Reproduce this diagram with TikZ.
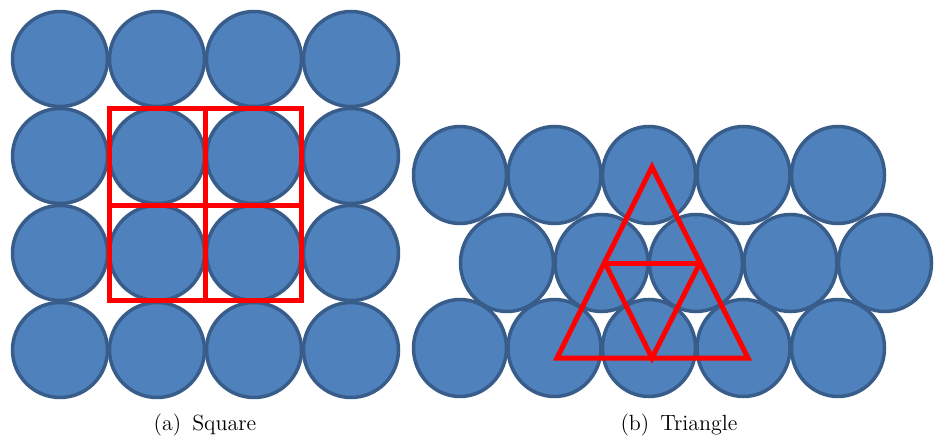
\documentclass[tikz,border=0pt]{standalone}
\usepackage{tikz}
\definecolor{ballfill}{HTML}{4F81BD}
\definecolor{balledge}{HTML}{385D8A}

\begin{document}
\begin{tikzpicture}[x=0.5pt,y=-0.5pt,
 ball/.style={draw=balledge,fill=ballfill,line width=1.75pt},
 cell/.style={draw=red,line width=2.5pt},
 subcap/.style={font=\fontsize{11}{13}\selectfont,inner sep=0pt}]
\useasboundingbox (0,0) rectangle (936,438);
% (a) square packing
\foreach \i in {0,...,3}{\foreach \j in {0,...,3}{
 \draw[ball] (60+97*\i,59+97*\j) circle[radius=47.5];}}
\coordinate (sq1) at (109,109); \coordinate (sq2) at (205,206); \coordinate (sq3) at (301,300);
\draw[cell] (sq1) rectangle (sq2);
\draw[cell] (sq1 -| sq2) rectangle (sq2 -| sq3);
\draw[cell] (sq2 |- sq2) rectangle (sq3);
\draw[cell] (sq1 |- sq2) rectangle (sq2 |- sq3);
% (b) triangular packing
\foreach \y/\x in {175/460,263/507,348/460}{\foreach \k in {0,...,4}{
 \draw[ball] (\x+94.5*\k,\y) ellipse[x radius=46.5,y radius=48.5];}}
\coordinate (top) at (652,167);
\coordinate (ml) at (605,263); \coordinate (mr) at (700,263);
\coordinate (bl) at (557,358); \coordinate (bm) at (652,358); \coordinate (br) at (748,358);
\draw[cell] (top)--(br)--(bl)--cycle;
\draw[cell] (ml)--(mr); \draw[cell] (ml)--(bm)--(mr);
% captions
\node[subcap] (capa) at (205,425) {(a)\enspace Square};
\node[subcap] (capb) at (679,425) {(b)\enspace Triangle};
\end{tikzpicture}
\end{document}
